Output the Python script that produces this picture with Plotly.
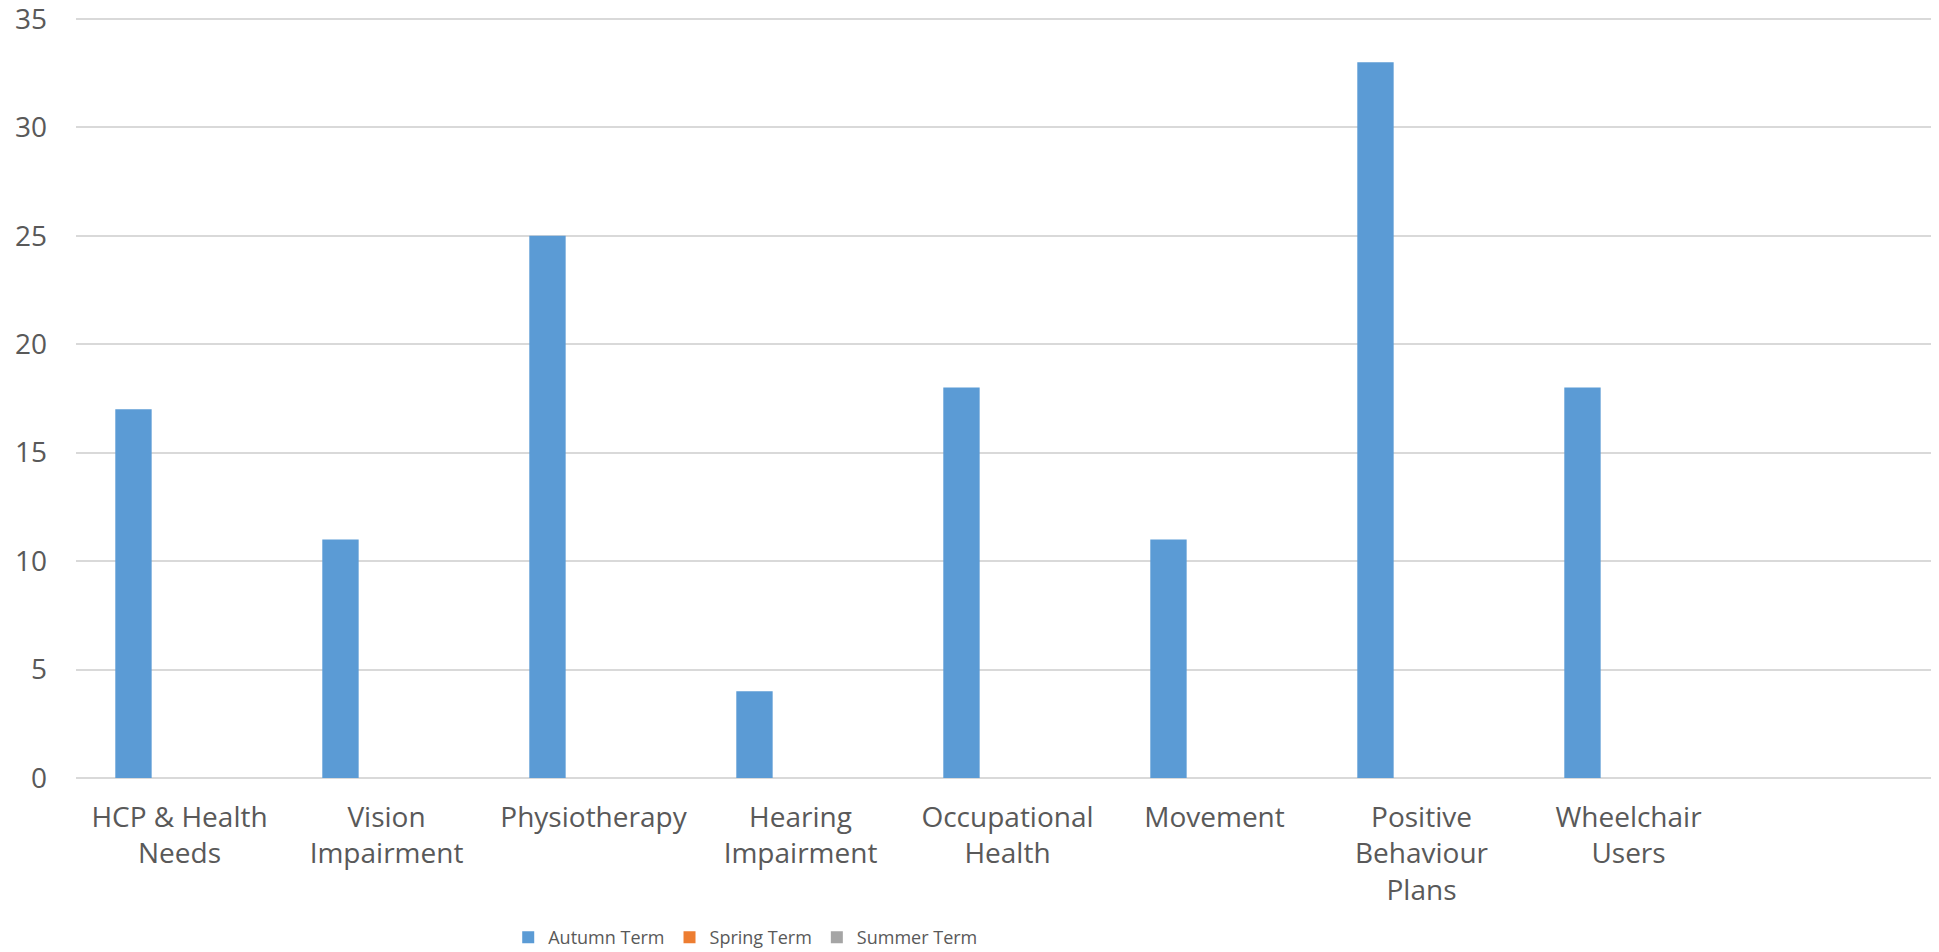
import plotly.graph_objects as go

categories = ["HCP & Health<br>Needs", "Vision<br>Impairment", "Physiotherapy", "Hearing<br>Impairment",
              "Occupational<br>Health", "Movement", "Positive<br>Behaviour<br>Plans", "Wheelchair<br>Users"]
autumn = [17, 11, 25, 4, 18, 11, 33, 18]
spring = [0, 0, 0, 0, 0, 0, 0, 0]
summer = [0, 0, 0, 0, 0, 0, 0, 0]
y_ticks = [0, 5, 10, 15, 20, 25, 30, 35]

x_pos = list(range(len(categories)))
font_family = "Open Sans, Noto Sans, sans-serif"
text_color = "#595959"

fig = go.Figure()
fig.add_trace(go.Bar(name="Autumn Term", x=x_pos, y=autumn, marker=dict(color="#5B9BD5", line=dict(width=0))))
fig.add_trace(go.Bar(name="Spring Term", x=x_pos, y=spring, marker=dict(color="#ED7D31", line=dict(width=0))))
fig.add_trace(go.Bar(name="Summer Term", x=x_pos, y=summer, marker=dict(color="#A5A5A5", line=dict(width=0))))

fig.update_layout(
    width=1931, height=944,
    margin=dict(l=68, r=0, t=7, b=174, autoexpand=False),
    paper_bgcolor="white", plot_bgcolor="white",
    barmode="group", bargap=0.333, bargroupgap=0.21,
    font=dict(family=font_family, color=text_color, size=28),
    showlegend=True,
    legend=dict(orientation="h", x=0.232, xanchor="left", y=-0.209, yanchor="middle",
                font=dict(size=18, color=text_color), itemwidth=30, tracegroupgap=0,
                bgcolor="rgba(0,0,0,0)"),
)
fig.update_xaxes(
    range=[-0.5, 8.5], tickmode="array", tickvals=x_pos, ticktext=categories,
    showgrid=False, zeroline=False, showline=False, ticks="", tickfont=dict(size=28, color=text_color),
    tickangle=0, ticklabelstandoff=20, fixedrange=True,
)
fig.update_yaxes(
    range=[0, 35.18], tickmode="array", tickvals=y_ticks, showgrid=True, gridcolor="#D9D9D9", gridwidth=2,
    zeroline=True, zerolinecolor="#D9D9D9", zerolinewidth=2, showline=False, ticks="",
    ticklabelstandoff=28, ticklabeloverflow="allow", tickfont=dict(size=28, color=text_color),
    fixedrange=True,
)

fig.write_html("out.html")
